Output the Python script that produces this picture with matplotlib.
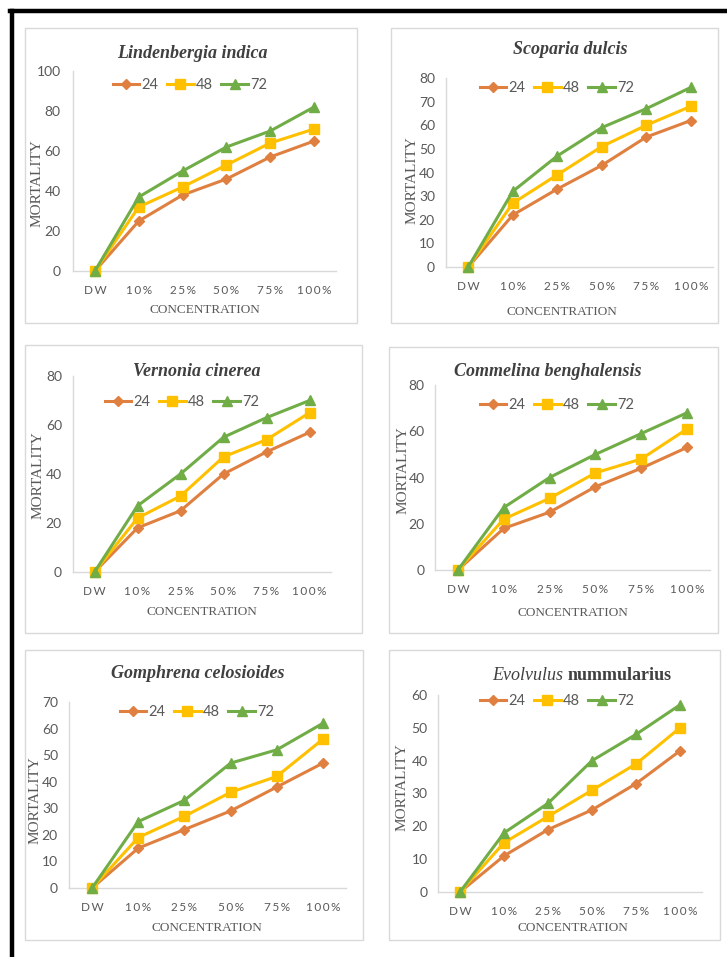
import matplotlib
matplotlib.use("Agg")
import matplotlib.pyplot as plt
from matplotlib.patches import Rectangle
from matplotlib.lines import Line2D

W, H = 727, 957

concentrations = ["DW", "10%", "25%", "50%", "75%", "100%"]
hours = ["24", "48", "72"]

titles = ["Lindenbergia indica", "Scoparia dulcis", "Vernonia cinerea",
          "Commelina benghalensis", "Gomphrena celosioides", "Evolvulus nummularius"]

lindenbergia_24 = [0, 25, 38, 46, 57, 65]
lindenbergia_48 = [0, 32, 42, 53, 64, 71]
lindenbergia_72 = [0, 37, 50, 62, 70, 82]

scoparia_24 = [0, 22, 33, 43, 55, 62]
scoparia_48 = [0, 27, 39, 51, 60, 68]
scoparia_72 = [0, 32, 47, 59, 67, 76]

vernonia_24 = [0, 18, 25, 40, 49, 57]
vernonia_48 = [0, 22, 31, 47, 54, 65]
vernonia_72 = [0, 27, 40, 55, 63, 70]

commelina_24 = [0, 18, 25, 36, 44, 53]
commelina_48 = [0, 22, 31, 42, 48, 61]
commelina_72 = [0, 27, 40, 50, 59, 68]

gomphrena_24 = [0, 15, 22, 29, 38, 47]
gomphrena_48 = [0, 19, 27, 36, 42, 56]
gomphrena_72 = [0, 25, 33, 47, 52, 62]

evolvulus_24 = [0, 11, 19, 25, 33, 43]
evolvulus_48 = [0, 15, 23, 31, 39, 50]
evolvulus_72 = [0, 18, 27, 40, 48, 57]

series = [
    (lindenbergia_24, lindenbergia_48, lindenbergia_72),
    (scoparia_24, scoparia_48, scoparia_72),
    (vernonia_24, vernonia_48, vernonia_72),
    (commelina_24, commelina_48, commelina_72),
    (gomphrena_24, gomphrena_48, gomphrena_72),
    (evolvulus_24, evolvulus_48, evolvulus_72),
]
y_max = [100, 80, 80, 80, 70, 60]
y_step = [20, 10, 20, 20, 10, 10]

colors = ["#DF8040", "#FFC000", "#70AD47"]
markers = ["D", "s", "^"]
msizes = [5.5, 7, 7.5]

# layout in pixels: panel box, plot area, title, legend, ylabel, xlabel
boxes = [(25, 28, 357, 323), (391, 28, 718, 323),
         (25, 345, 362, 633), (389, 347, 718, 633),
         (25, 650, 363, 940), (389, 650, 720, 940)]
areas = [(73, 71, 336, 271), (446, 78, 713, 267),
         (73, 376, 331, 572), (435, 385, 710, 570),
         (69, 702, 346, 888), (438, 695, 702, 892)]
ytick_pad = [9, 8, 8, 7.5, 8, 7.5]
title_pos = [(192, 53), (570, 50), (197, 372), (548, 372), (198, 673), (570, 675)]
legend_pos = [(190, 85), (557, 88), (182, 402), (557, 405), (197, 712), (557, 701)]
ylabel_pos = [(37, 183), (412, 180), (38, 475), (403, 470), (35, 800), (402, 787)]
xlabel_pos = [(205, 310), (562, 312), (202, 612), (573, 613), (207, 928), (573, 928)]


def fx(x):
    return x / W


def fy(y):
    return 1 - y / H


fig = plt.figure(figsize=(W / 100, H / 100), dpi=100)
fig.patch.set_facecolor("white")

# black frame on top and left
fig.add_artist(Line2D([fx(12), fx(12)], [fy(11), 0], color="black", lw=3.2))
fig.add_artist(Line2D([fx(10), 1], [fy(11), fy(11)], color="black", lw=3.2))

tick_labels = ["\u2009".join(c) for c in concentrations]

for i in range(6):
    l, t, r, b = boxes[i]
    fig.add_artist(Rectangle((fx(l), fy(b)), (r - l) / W, (b - t) / H,
                             transform=fig.transFigure, fill=False,
                             edgecolor="#D9D9D9", lw=1.0))

    l, t, r, b = areas[i]
    ax = fig.add_axes([fx(l), fy(b), (r - l) / W, (b - t) / H])
    x = range(len(concentrations))
    for k in range(3):
        ax.plot(x, series[i][k], color=colors[k], marker=markers[k],
                markersize=msizes[k], lw=2.2, clip_on=False, zorder=3 + k)
    ax.set_xlim(-0.5, 5.5)
    ax.set_ylim(0, y_max[i])
    ax.set_yticks(range(0, y_max[i] + 1, y_step[i]))
    ax.set_xticks(list(x))
    ax.set_xticklabels(tick_labels, family=["Lato", "DejaVu Sans"], fontsize=8.5,
                       color="#595959")
    for lab in ax.get_yticklabels():
        lab.set_family("Lato")
        lab.set_fontsize(10)
        lab.set_color("#595959")
    ax.tick_params(length=0, pad=10)
    ax.tick_params(axis="y", pad=ytick_pad[i])
    for s in ["top", "right"]:
        ax.spines[s].set_visible(False)
    for s in ["left", "bottom"]:
        ax.spines[s].set_color("#D9D9D9")
        ax.spines[s].set_linewidth(1.0)

    tx, ty = title_pos[i]
    if i == 5:
        fig.text(fx(tx - 2), fy(ty), "Evolvulus ", ha="right", va="center",
                 family="Liberation Serif", style="italic", fontsize=13,
                 color="#404040")
        fig.text(fx(tx - 2), fy(ty), "nummularius", ha="left", va="center",
                 family="Liberation Serif", weight="bold", fontsize=13,
                 color="#404040")
    else:
        fig.text(fx(tx), fy(ty), titles[i], ha="center", va="center",
                 family="Liberation Serif", style="italic", weight="bold",
                 fontsize=13, color="#404040")

    handles = [Line2D([], [], color=colors[k], marker=markers[k],
                      markersize=msizes[k], lw=2.2) for k in range(3)]
    lx, ly = legend_pos[i]
    fig.legend(handles, hours, loc="center", bbox_to_anchor=(fx(lx), fy(ly)),
               ncol=3, frameon=False, handlelength=1.8, handletextpad=0.15,
               columnspacing=0.6, prop={"family": "Lato", "size": 10.5},
               labelcolor="#595959")

    yx, yy = ylabel_pos[i]
    fig.text(fx(yx), fy(yy), "MORTALITY", rotation=90, ha="center", va="center",
             family="Liberation Serif", fontsize=11, color="#595959")
    cx, cy = xlabel_pos[i]
    fig.text(fx(cx), fy(cy), "CONCENTRATION", ha="center", va="center",
             family="Liberation Serif", fontsize=9.5, color="#595959")

fig.savefig("out.png", dpi=100, facecolor="white")
